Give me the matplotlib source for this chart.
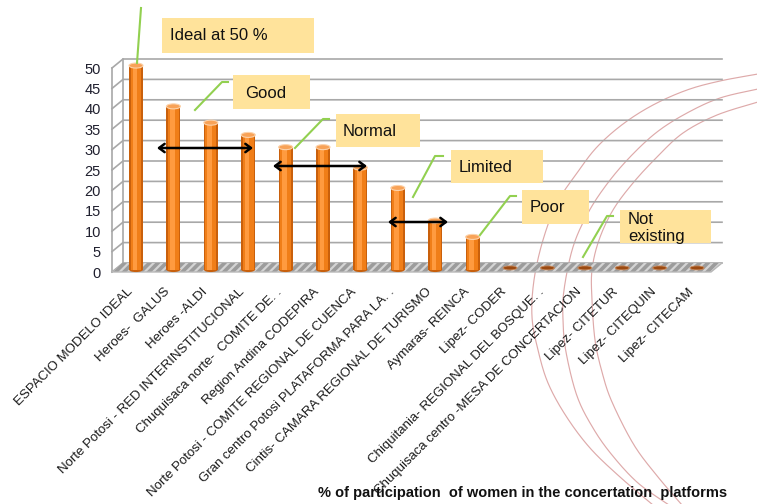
import numpy as np
import matplotlib
matplotlib.use("Agg")
import matplotlib.pyplot as plt
from matplotlib.patches import Ellipse, Polygon, Rectangle, FancyArrowPatch
from matplotlib.lines import Line2D

plt.rcParams['font.family'] = ['Liberation Sans', 'DejaVu Sans']
plt.rcParams['hatch.linewidth'] = 1.6

# ---------------- data ----------------
categories = [
    "ESPACIO MODELO IDEAL", "Heroes-  GALUS", "Heroes -ALDI",
    "Norte Potosi - RED INTERINSTITUCIONAL", "Chuquisaca norte-  COMITE DE. .",
    "Region Andina CODEPIRA", "Norte Potosi - COMITE REGIONAL DE CUENCA",
    "Gran centro Potosi PLATAFORMA PARA LA. .", "Cintis- CAMARA REGIONAL DE TURISMO",
    "Aymaras- REINCA", "Lipez- CODER", "Chiquitania- REGIONAL DEL BOSQUE. .",
    "Chuquisaca centro -MESA DE CONCERTACION", "Lipez- CITETUR",
    "Lipez- CITEQUIN", "Lipez- CITECAM",
]
values = [50, 40, 36, 33, 30, 30, 25, 20, 12, 8, 0, 0, 0, 0, 0, 0]
yticks = [0, 5, 10, 15, 20, 25, 30, 35, 40, 45, 50]
xlabel_text = "% of participation  of women in the concertation  platforms"

# ---------------- figure / axes ----------------
WPX, HPX = 757, 504
fig = plt.figure(figsize=(WPX / 100, HPX / 100), dpi=100)
ax_l, ax_r, ax_b, ax_t = 112, 711, 272, 68
ax = fig.add_axes([ax_l / WPX, 1 - ax_b / HPX, (ax_r - ax_l) / WPX, (ax_b - ax_t) / HPX])
ax.set_facecolor('none')

n = len(categories)
x = np.arange(n)
xlim = (-0.495, n - 1 + 0.52)
ylim = (0, 50)
ax.set_xlim(*xlim)
ax.set_ylim(*ylim)
ppx = (ax_r - ax_l) / (xlim[1] - xlim[0])
ppy = (ax_b - ax_t) / (ylim[1] - ylim[0])
dx, dy = 11 / ppx, 9 / ppy           # depth offset (back wall)
mx, my = dx / 2, 0.6                 # bar plane offset

for s in ax.spines.values():
    s.set_visible(False)

grid_c = '#A8A8A8'
# walls / gridlines
for v in yticks:
    ax.plot([xlim[0], xlim[0] + dx, xlim[1] + dx], [v, v + dy, v + dy],
            color=grid_c, lw=1.2, clip_on=False, zorder=1)
ax.plot([xlim[0], xlim[0]], [0, 50], color=grid_c, lw=1.2, clip_on=False, zorder=1)
ax.plot([xlim[0] + dx, xlim[0] + dx], [dy, 50 + dy], color=grid_c, lw=1.2, clip_on=False, zorder=1)

# floor
floor = Polygon([[xlim[0], 0], [xlim[1], 0], [xlim[1] + dx, dy], [xlim[0] + dx, dy]],
                closed=True, facecolor='#9C9C9C', edgecolor='#D4D4D4', hatch='////',
                lw=0, clip_on=False, zorder=2)
ax.add_patch(floor)
ax.plot([xlim[0], xlim[1], xlim[1] + dx], [0, 0, dy], color='#B8B8B8', lw=1.0,
        clip_on=False, zorder=2)

# bars (cylinders)
w = 14 / ppx
eh = 5 / ppy
for xi, v in zip(x, values):
    xc = xi + mx
    if v > 0:
        ax.add_patch(Ellipse((xc, my), w, eh, facecolor='#C9600C', lw=0, zorder=3, clip_on=False))
        ax.bar(xc, v, width=w, bottom=my, color='#C9600C', zorder=3, clip_on=False)
        ax.bar(xc, v, width=w * 0.78, bottom=my, color='#F07E18', zorder=3, clip_on=False)
        ax.bar(xc - w * 0.08, v, width=w * 0.34, bottom=my, color='#FF9B40', zorder=3, clip_on=False)
        ax.add_patch(Ellipse((xc, v + my), w, eh, facecolor='#F8A257', edgecolor='#FCD2AA',
                             lw=0.8, zorder=4, clip_on=False))
    else:
        ax.add_patch(Ellipse((xc, my + 0.4), w, 4 / ppy, facecolor='#9B4A12',
                             edgecolor='#C98B5E', lw=0.6, zorder=4, clip_on=False))

ax.set_yticks(yticks)
ax.set_yticklabels([str(t) for t in yticks], fontsize=10.5, color='#1F1F2E')
ax.tick_params(axis='y', length=0, pad=8)
ax.set_xticks(x)
ax.set_xticklabels(categories, rotation=45, ha='right', va='center',
                   rotation_mode='anchor', fontsize=9.5, color='#1A1A1A')
ax.tick_params(axis='x', length=0, pad=13)


def P(px, py):
    return (px / WPX, 1 - py / HPX)


# decorative arcs (slide background)
def smooth(pts, k=20):
    pts = np.asarray(pts, float)
    p = np.vstack([pts[0], pts, pts[-1]])
    out = []
    for i in range(1, len(p) - 2):
        p0, p1, p2, p3 = p[i - 1], p[i], p[i + 1], p[i + 2]
        t = np.linspace(0, 1, k)[:, None]
        out.append(0.5 * ((2 * p1) + (-p0 + p2) * t + (2 * p0 - 5 * p1 + 4 * p2 - p3) * t ** 2
                          + (-p0 + 3 * p1 - 3 * p2 + p3) * t ** 3))
    return np.vstack(out)


arcs = [
    [(758, 74), (720, 81), (687, 90), (653, 105), (623, 124), (597, 147), (577, 173),
     (557, 203), (543, 240), (534, 280), (532, 317), (538, 350), (548, 383), (566, 416),
     (590, 448), (620, 477), (653, 505)],
    [(758, 89), (720, 98), (687, 113), (657, 132), (630, 157), (607, 184), (588, 213),
     (573, 247), (564, 290), (563, 320), (566, 352), (577, 396), (593, 428), (612, 455),
     (638, 483), (669, 505)],
    [(758, 102), (717, 115), (683, 133), (657, 157), (633, 183), (613, 210), (599, 240),
     (592, 270), (592, 300), (595, 340), (602, 372), (612, 402), (634, 445), (658, 477),
     (682, 505)],
]
for a in arcs:
    c = smooth(a)
    fig.add_artist(Line2D(c[:, 0] / WPX, 1 - c[:, 1] / HPX, transform=fig.transFigure,
                          color='#DEAAAA', lw=0.85, zorder=-1))

# annotation boxes
box_c = '#FFE39B'
green = '#92D050'
boxes = [
    ("Ideal at 50 %", 162, 18, 314, 53, 170, 36),
    ("Good", 233, 75, 310, 109, 245, 94),
    ("Normal", 336, 114, 420, 147, 343, 132),
    ("Limited", 451, 150, 543, 183, 459, 168),
    ("Poor", 522, 190, 589, 224, 530, 208),
    ("Not\nexisting", 620, 210, 711, 243, 628, 228),
]
for txt, x0, y0, x1, y1, tx, ty in boxes:
    fig.add_artist(Rectangle(P(x0, y1), (x1 - x0) / WPX, (y1 - y0) / HPX,
                             transform=fig.transFigure, facecolor=box_c, lw=0, zorder=5))
    fig.text(*P(tx, ty), txt, fontsize=12, ha='left', va='center', color='#111111',
             zorder=6, linespacing=1.25)

leaders = [
    [(137, 63), (141, 8)],
    [(195, 110), (222, 82), (228, 82)],
    [(295, 148), (323, 119), (329, 119)],
    [(413, 197), (435, 156), (443, 156)],
    [(480, 235), (510, 196), (516, 196)],
    [(583, 257), (607, 216), (613, 216)],
]
for pts in leaders:
    pts = np.array(pts, float)
    fig.add_artist(Line2D(pts[:, 0] / WPX, 1 - pts[:, 1] / HPX, transform=fig.transFigure,
                          color=green, lw=1.5, zorder=6))

arrows = [((157, 148), (253, 148)), ((273, 166), (367, 166)), ((388, 222), (448, 222))]
for (xa, ya), (xb, yb) in arrows:
    fig.add_artist(FancyArrowPatch(
        P(xa, ya), P(xb, yb), transform=fig.transFigure,
        arrowstyle='<->,head_length=4,head_width=3', lw=1.8, color='black',
        shrinkA=0, shrinkB=0, zorder=7))

fig.text(*P(523, 493), xlabel_text, fontsize=10.5, fontweight='bold', ha='center',
         va='center', color='#111111')

fig.savefig("out.png", dpi=100)
